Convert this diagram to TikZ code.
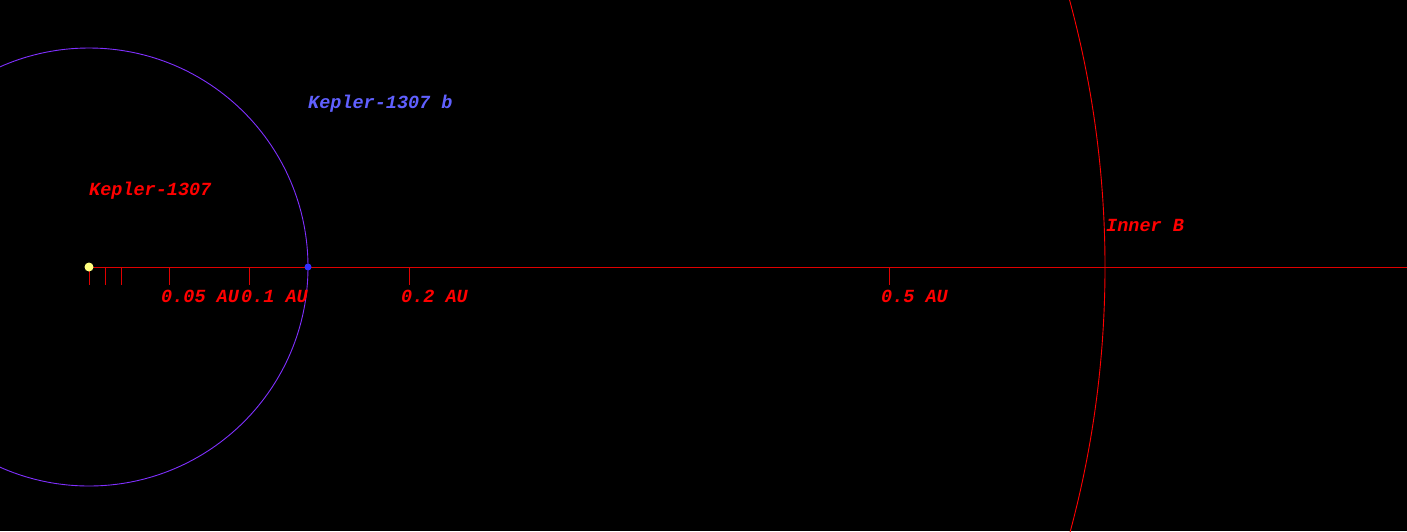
\documentclass[tikz,border=0pt]{standalone}
\usepackage{fontspec}
\newfontfamily\monofont{Liberation Mono}
\definecolor{orbitpurple}{HTML}{8030FF}
\definecolor{labelblue}{HTML}{6060FF}
\definecolor{planetblue}{HTML}{3030FF}
\definecolor{staryellow}{HTML}{FFFF80}
\definecolor{axisred}{HTML}{E00000}
\tikzset{
  lbl/.style={anchor=base west, inner sep=0pt, font=\monofont\bfseries\itshape\fontsize{18.5}{18.5}\selectfont},
  tick/.style={axisred, line width=0.8pt},
}
\begin{document}
\begin{tikzpicture}[x=1pt,y=-1pt]
\fill[black] (0,0) rectangle (1407,531);
\useasboundingbox (0,0) rectangle (1407,531);
\coordinate (c) at (89,267);
\begin{scope}
\clip (0,0) rectangle (1407,531);
\draw[red, line width=0.9pt] (c) circle[radius=1016];
\draw[orbitpurple, line width=0.9pt] (c) circle[radius=219];
\end{scope}
\coordinate (axend) at (1407,267);
\draw[axisred, line width=0.6pt] (c) -- (axend);
\foreach \x in {89,105,121,169,249,409,889} \draw[tick] (\x,267) -- (\x,285);
\node[circle, fill=staryellow, inner sep=0pt, minimum size=9pt] (star) at (c) {};
\node[circle, fill=planetblue, inner sep=0pt, minimum size=7pt] (planet) at (308,267) {};
\node[lbl, text=red] (starlbl) at (89,195) {Kepler-1307};
\node[lbl, text=labelblue] (planetlbl) at (308,108) {Kepler-1307 b};
\node[lbl, text=red] (l005) at (161,302) {0.05 AU};
\node[lbl, text=red] (l01) at (241,302) {0.1 AU};
\node[lbl, text=red] (l02) at (401,302) {0.2 AU};
\node[lbl, text=red] (l05) at (881,302) {0.5 AU};
\node[lbl, text=red] (inner) at (1106,231) {Inner B};
\end{tikzpicture}
\end{document}
